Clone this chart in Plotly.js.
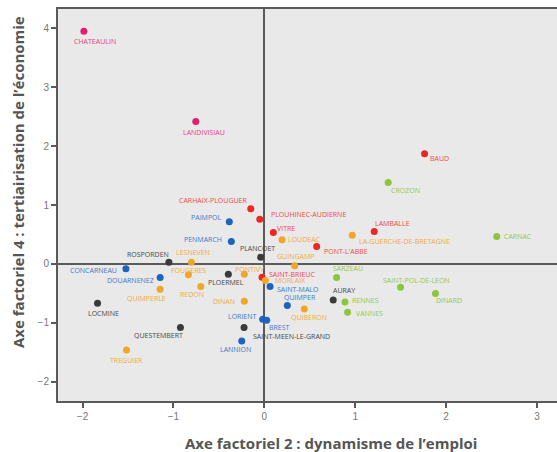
<!DOCTYPE html>
<html>
<head>
<meta charset="utf-8">
<script src="https://cdn.plot.ly/plotly-3.0.1.min.js"></script>
<style>html,body{margin:0;padding:0;background:#fff;}#chart{width:557px;height:452px;}</style>
</head>
<body>
<div id="chart"></div>
<script>
// Data
var communes = ["CHATEAULIN","LANDIVISIAU","BAUD","CROZON","CARHAIX-PLOUGUER","PAIMPOL","PLOUHINEC-AUDIERNE","VITRE","LOUDEAC","PENMARCH","PLANCOET","GUINGAMP","ROSPORDEN","LESNEVEN","CONCARNEAU","FOUGERES","DOUARNENEZ","PLOERMEL","PONTIVY","SAINT-BRIEUC","MORLAIX","SAINT-MALO","REDON","QUIMPERLE","DINAN","LOCMINE","QUIMPER","QUIBERON","AURAY","RENNES","VANNES","SARZEAU","SAINT-POL-DE-LEON","DINARD","CARNAC","LAMBALLE","LA-GUERCHE-DE-BRETAGNE","PONT-L'ABBE","LORIENT","BREST","SAINT-MEEN-LE-GRAND","LANNION","QUESTEMBERT","TREGUIER"];
var axe2 = [-1.985,-0.754,1.763,1.363,-0.149,-0.385,-0.05,0.099,0.195,-0.363,-0.04,0.334,-1.05,-0.802,-1.523,-0.835,-1.146,-0.396,-0.22,-0.025,0.011,0.063,-0.699,-1.146,-0.22,-1.835,0.253,0.44,0.758,0.887,0.916,0.795,1.499,1.883,2.557,1.209,0.967,0.576,-0.018,0.026,-0.223,-0.248,-0.923,-1.516];
var axe4 = [3.95,2.42,1.871,1.383,0.935,0.714,0.76,0.532,0.408,0.379,0.114,-0.034,0.029,0.029,-0.085,-0.187,-0.233,-0.175,-0.175,-0.226,-0.284,-0.386,-0.386,-0.43,-0.634,-0.668,-0.709,-0.765,-0.612,-0.646,-0.822,-0.233,-0.397,-0.505,0.465,0.55,0.488,0.295,-0.94,-0.958,-1.083,-1.31,-1.083,-1.463];
var classe = ["rose","rose","rouge","vert","rouge","bleu","rouge","rouge","orange","bleu","gris","orange","gris","orange","bleu","orange","bleu","gris","orange","rouge","orange","bleu","orange","orange","orange","gris","bleu","orange","gris","vert","vert","vert","vert","vert","vert","rouge","orange","rouge","bleu","bleu","gris","bleu","gris","orange"];

// Label placement (pixel offsets of label centre from the marker)
var labelDx = [11,8,15,17,-37.5,-23,48.5,13,22,-28,-2.7,1,-20.5,1.7,-32.7,0,-30,-2,5,30,25,28,-8.7,-13.5,-20.5,5.7,12.4,5,10.5,20.7,22,11,15.5,13.3,21,18.4,52.4,29.5,-20,12.8,47,-6.3,-22,0];
var labelDy = [10.6,10.6,5,7.7,-8.7,-4.7,-5,-4,-0.7,-2.4,-8.6,-9,-8,-9.3,1.3,-4.7,2.6,8,-4.6,-3,0,2.6,7.6,9.7,0,10,-8.4,8.3,-9,-1.7,1,-9.4,-7,7.3,0,-8.4,6,5.3,-3,7,8.6,9,8.3,10.3];

var markerColors = {rose:"rgb(230,28,110)", rouge:"rgb(236,38,36)", vert:"rgb(140,198,62)", orange:"rgb(240,166,40)", bleu:"rgb(28,100,190)", gris:"rgb(58,58,58)"};
var textColors = {rose:"rgb(232,62,130)", rouge:"rgb(240,72,72)", vert:"rgb(150,200,72)", orange:"rgb(240,170,62)", bleu:"rgb(60,122,200)", gris:"rgb(72,72,72)"};

var order = ["rose","rouge","vert","orange","bleu","gris"];
var traces = order.map(function(c){
  var xs=[], ys=[], tx=[];
  for (var i=0;i<communes.length;i++){ if(classe[i]===c){ xs.push(axe2[i]); ys.push(axe4[i]); tx.push(communes[i]); } }
  return {type:"scatter", mode:"markers", x:xs, y:ys, text:tx, name:c, hoverinfo:"text",
          marker:{color:markerColors[c], size:7, line:{width:0}}};
});

var annotations = communes.map(function(n,i){
  return {x:axe2[i], y:axe4[i], xref:"x", yref:"y", text:n, showarrow:false,
          xanchor:"center", yanchor:"middle", xshift:labelDx[i], yshift:-labelDy[i],
          font:{family:"Open Sans", size:7, color:textColors[classe[i]]}};
});

annotations.push({xref:"paper", yref:"paper", x:(331-58)/499, y:-(443-401)/392, xanchor:"center", yanchor:"middle",
  text:"Axe factoriel 2 : dynamisme de l’emploi", showarrow:false,
  font:{family:"Open Sans", size:15, color:"#555", weight:"bold"}});
annotations.push({xref:"paper", yref:"paper", x:-(58-18)/499, y:(401-182)/392, xanchor:"center", yanchor:"middle",
  text:"Axe factoriel 4 : tertiairisation de l’économie", showarrow:false, textangle:-90,
  font:{family:"Open Sans", size:15, color:"#555", weight:"bold"}});

var axisCommon = {showgrid:false, zeroline:true, zerolinecolor:"#5a5a5a", zerolinewidth:2,
  showline:true, linecolor:"#5a5a5a", linewidth:2, ticks:"outside", ticklen:5, tickwidth:2, tickcolor:"#5a5a5a",
  tickfont:{family:"Liberation Sans, Arial, sans-serif", size:10, color:"#777"}, dtick:1};

var layout = {
  width:557, height:452, showlegend:false,
  margin:{l:58, r:0, t:9, b:51, pad:0},
  paper_bgcolor:"#fff", plot_bgcolor:"#e9e9e9",
  xaxis:Object.assign({}, axisCommon, {range:[-2.27,3.22], mirror:true}),
  yaxis:Object.assign({}, axisCommon, {range:[-2.33,4.33], mirror:false}),
  annotations:annotations
};

Plotly.newPlot("chart", traces, layout, {displayModeBar:false, staticPlot:true});
</script>
</body>
</html>
